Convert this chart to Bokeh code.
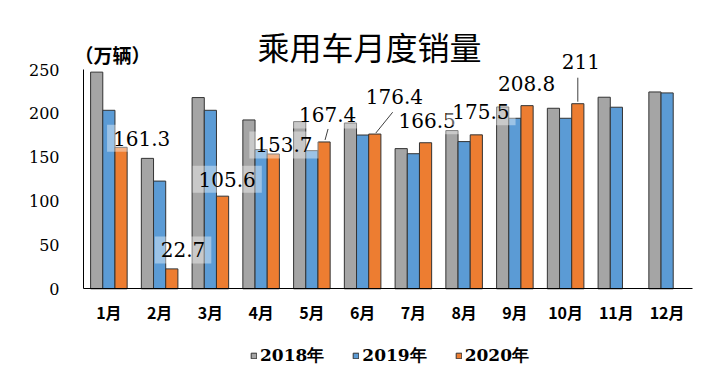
from bokeh.plotting import figure
from bokeh.models import (Range1d, FixedTicker, Label, Legend, LegendItem,
                          ColumnDataSource)
from bokeh.transform import dodge
from bokeh.embed import file_html
from bokeh.resources import INLINE

# ---------------- data ----------------
months = ["1月", "2月", "3月", "4月", "5月", "6月", "7月", "8月", "9月", "10月", "11月", "12月"]
sales_2018 = [247, 148.7, 218, 192.5, 190.6, 189, 159.8, 180.4, 207.3, 205.8, 218.4, 224.4]
sales_2019 = [203.5, 122.8, 203.5, 158.7, 157.5, 175.3, 154, 167.8, 194.4, 194.4, 207, 223.3]
sales_2020 = [161.3, 22.7, 105.6, 153.7, 167.4, 176.4, 166.5, 175.5, 208.8, 211]
label_2020 = ["161.3", "22.7", "105.6", "153.7", "167.4", "176.4", "166.5", "175.5", "208.8", "211"]
series_names = ["2018年", "2019年", "2020年"]
y_ticks = [0, 50, 100, 150, 200, 250]
YMAX = 250

# ---------------- style / layout ----------------
W, H = 713, 370
AX_L, AX_R = 83, 692     # page x of the category axis ends
BASE = 288.3             # page y of the value axis zero
px_x = (AX_R - AX_L) / len(months)
px_y = 219.3 / YMAX
X_LO = -AX_L / px_x
X_HI = len(months) + (W - AX_R) / px_x
Y_LO = -(H - BASE) / px_y
Y_HI = BASE / px_y
colors = ["#A5A5A5", "#5B9BD5", "#ED7D31"]
bar_w = 0.24
offs = [-bar_w, 0.0, bar_w]
PAD = 6
# label offsets (px) relative to top centre of the 2020 bar: (dx to text left, dy to text centre, down positive)
lab_off = [(-8, -9), (-11, -19), (-24, -17), (-18, -9), (-25, -27), (-9, -38),
           (-27, -22), (-24, -23), (-29, -22), (-16, -42)]
# leader lines (px) relative to top centre of the 2020 bar: month index, start, end
leaders = [(4, (4, -13), (1, -2)), (5, (18, -22), (1, -1)), (9, (0, -26), (0, -2))]

p = figure(width=W, height=H, output_backend="svg", toolbar_location=None,
           x_range=Range1d(X_LO, X_HI), y_range=Range1d(Y_LO, Y_HI),
           min_border=0)
p.outline_line_color = None
p.grid.visible = False

xc = [i + 0.5 for i in range(len(months))]
src_a = ColumnDataSource(dict(x=xc, y18=sales_2018, y19=sales_2019))
src_b = ColumnDataSource(dict(x=xc[:len(sales_2020)], y20=sales_2020))

r1 = p.vbar(x=dodge("x", offs[0], range=p.x_range), top="y18", width=bar_w, source=src_a,
            fill_color=colors[0], line_color="#333333", line_width=1)
r2 = p.vbar(x=dodge("x", offs[1], range=p.x_range), top="y19", width=bar_w, source=src_a,
            fill_color=colors[1], line_color="#333333", line_width=1)
r3 = p.vbar(x=dodge("x", offs[2], range=p.x_range), top="y20", width=bar_w, source=src_b,
            fill_color=colors[2], line_color="#333333", line_width=1)

# axes
p.xaxis.ticker = FixedTicker(ticks=xc)
p.xaxis.major_label_overrides = {x: m for x, m in zip(xc, months)}
p.xaxis.fixed_location = 0
p.xaxis.bounds = (0, len(months))
p.yaxis.ticker = FixedTicker(ticks=y_ticks)
p.yaxis.fixed_location = 0
p.yaxis.bounds = (0, YMAX)
for ax in (p.xaxis, p.yaxis):
    ax.axis_line_color = "black"
    ax.axis_line_width = 1
    ax.major_tick_line_color = None
    ax.minor_tick_line_color = None
    ax.major_tick_out = 0
    ax.major_tick_in = 0
p.xaxis.major_label_text_font = "Noto Sans CJK SC"
p.xaxis.major_label_text_font_style = "bold"
p.xaxis.major_label_text_font_size = "16px"
p.xaxis.major_label_text_color = "black"
p.xaxis.major_label_standoff = 11
p.yaxis.major_label_text_font = "DejaVu Serif"
p.yaxis.major_label_text_font_size = "16px"
p.yaxis.major_label_text_color = "black"
p.yaxis.major_label_standoff = 24

# data labels for 2020
for i, (v, t) in enumerate(zip(sales_2020, label_2020)):
    dx, dy = lab_off[i]
    p.add_layout(Label(x=xc[i] + offs[2], y=v, text=t, x_offset=dx - PAD, y_offset=-dy,
                       text_align="left", text_baseline="middle",
                       text_font="DejaVu Serif", text_font_size="20px", text_color="black",
                       background_fill_color="white", background_fill_alpha=0.4,
                       padding=PAD))

# leader lines
lx0, ly0, lx1, ly1 = [], [], [], []
for i, (sx, sy), (ex, ey) in leaders:
    bx, by = xc[i] + offs[2], sales_2020[i]
    lx0.append(bx + sx / px_x); ly0.append(by - sy / px_y)
    lx1.append(bx + ex / px_x); ly1.append(by - ey / px_y)
p.segment(x0=lx0, y0=ly0, x1=lx1, y1=ly1, line_color="#404040", line_width=1)

# title and unit
p.add_layout(Label(x=(369 - AX_L) / px_x, y=(BASE - 45) / px_y, text="乘用车月度销量",
                   text_align="center", text_baseline="middle",
                   text_font="Noto Sans CJK SC", text_font_size="32px", text_color="black"))
p.add_layout(Label(x=(74 - AX_L) / px_x, y=(BASE - 54) / px_y, text="（万辆）",
                   text_align="left", text_baseline="middle", text_font="Noto Sans CJK SC",
                   text_font_style="bold", text_font_size="19px", text_color="black"))

# legend
legend = Legend(items=[LegendItem(label=n, renderers=[r]) for n, r in zip(series_names, [r1, r2, r3])],
                orientation="horizontal", location=(253 - 3, 3),
                glyph_width=7, glyph_height=7, label_standoff=3, spacing=28,
                padding=0, margin=0, border_line_color=None, background_fill_alpha=0,
                label_text_font="DejaVu Serif", label_text_font_style="bold",
                label_text_font_size="17px", label_text_color="black")
p.add_layout(legend)

open("out.html", "w").write(file_html(p, INLINE))
